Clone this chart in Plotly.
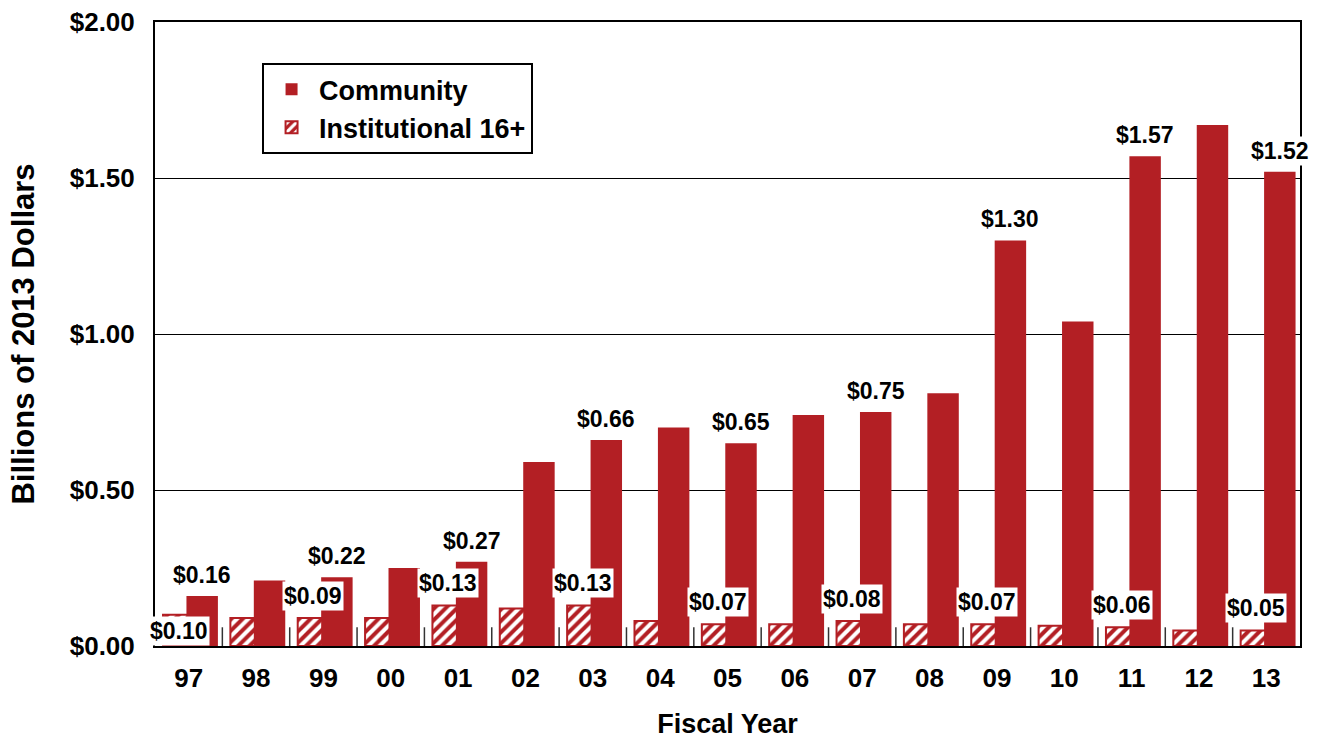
import plotly.graph_objects as go

years = ["97", "98", "99", "00", "01", "02", "03", "04", "05", "06", "07", "08", "09", "10", "11", "12", "13"]
community = [0.16, 0.21, 0.22, 0.25, 0.27, 0.59, 0.66, 0.70, 0.65, 0.74, 0.75, 0.81, 1.30, 1.04, 1.57, 1.67, 1.52]
institutional = [0.10, 0.09, 0.09, 0.09, 0.13, 0.12, 0.13, 0.08, 0.07, 0.07, 0.08, 0.07, 0.07, 0.065, 0.06, 0.05, 0.05]
labeled = [0, 2, 4, 6, 8, 10, 12, 14, 16]

RED = "#B31F24"
FONT = "Liberation Sans, Arial, sans-serif"
BAR_W = 0.467
INST_OFF = -0.381
COMM_OFF = -0.033

fig = go.Figure()
fig.add_trace(go.Bar(
    x=list(range(len(years))), y=institutional, name="Institutional 16+",
    width=BAR_W, offset=INST_OFF, legendrank=2,
    marker=dict(color=RED, line=dict(color=RED, width=2),
                pattern=dict(shape="/", fgcolor="white", bgcolor=RED, size=8,
                             solidity=0.5, fillmode="replace")),
))
fig.add_trace(go.Bar(
    x=list(range(len(years))), y=community, name="Community",
    width=BAR_W, offset=COMM_OFF, legendrank=1,
    marker=dict(color=RED, line=dict(color=RED, width=0)),
))

ann = []
for i in labeled:
    ann.append(dict(x=i + COMM_OFF + BAR_W / 2, y=community[i], xref="x", yref="y",
                    text="$%.2f" % community[i], showarrow=False, yanchor="middle",
                    yshift=21, bgcolor="white", borderpad=1,
                    font=dict(family=FONT, size=23, color="black", weight="bold")))
    ann.append(dict(x=i + INST_OFF + BAR_W / 2, y=institutional[i], xref="x", yref="y",
                    text="$%.2f" % institutional[i], showarrow=False, yanchor="middle",
                    yshift=(-16 if i == 0 else 22), bgcolor="white", borderpad=1,
                    font=dict(family=FONT, size=23, color="black", weight="bold")))

fig.update_layout(
    width=1320, height=739,
    margin=dict(l=155, r=20, t=22, b=93),
    paper_bgcolor="white", plot_bgcolor="white",
    barmode="overlay",
    font=dict(family=FONT, size=26, color="black", weight="bold"),
    showlegend=True,
    legend=dict(x=0.0935, y=0.934, xanchor="left", yanchor="top",
                bgcolor="white", bordercolor="black", borderwidth=2,
                font=dict(family=FONT, size=27, color="black", weight="bold"),
                traceorder="normal", itemwidth=45, tracegroupgap=0),
    annotations=ann,
    xaxis=dict(
        type="linear", range=[-0.5, len(years) - 0.5],
        tickvals=list(range(len(years))), ticktext=years,
        showline=True, linecolor="black", linewidth=2, mirror=True,
        showgrid=False, zeroline=False, ticks="", automargin=False,
        ticklabelstandoff=8,
        title=dict(text="Fiscal Year", font=dict(size=27, weight="bold"), standoff=23),
    ),
    yaxis=dict(
        range=[0, 2.0], tickvals=[0, 0.5, 1.0, 1.5, 2.0], tickformat="$.2f",
        showline=True, linecolor="black", linewidth=2, mirror=True,
        showgrid=True, gridcolor="black", gridwidth=1, zeroline=False,
        ticks="", ticklabelstandoff=13, automargin=False,
        title=dict(text="Billions of 2013 Dollars", font=dict(size=31, weight="bold"), standoff=26),
    ),
)

# separator ticks between categories at the bottom
for k in range(1, len(years)):
    fig.add_shape(type="line", xref="x", yref="paper", x0=k - 0.5, x1=k - 0.5,
                  y0=0, y1=0.03, line=dict(color="#333333", width=1.5))

fig.write_html("out.html", config={"displayModeBar": False},
               post_script="document.body.style.margin='0';document.body.style.overflow='hidden';")
